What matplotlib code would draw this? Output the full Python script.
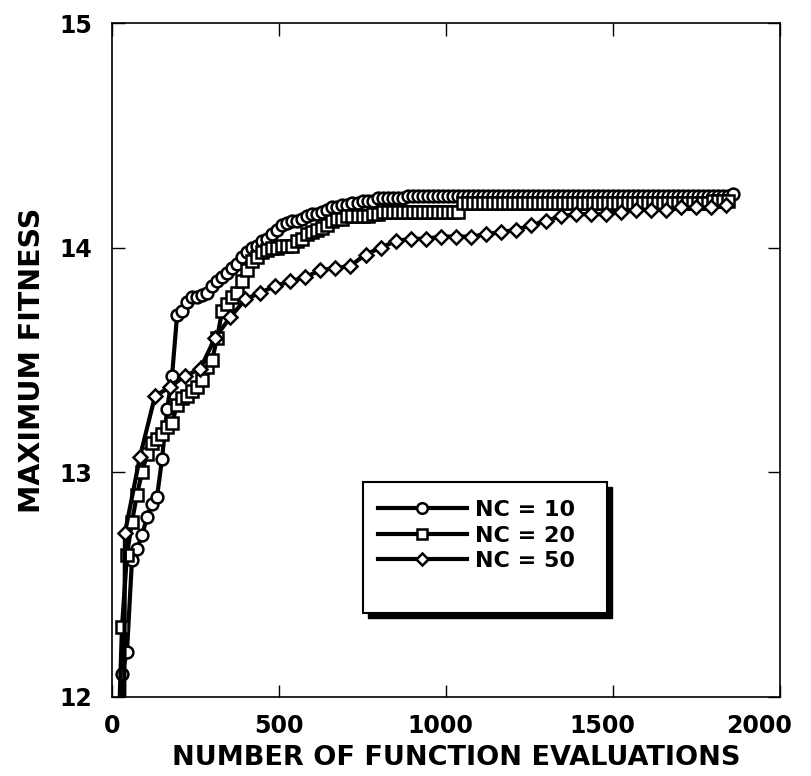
import numpy as np
import matplotlib.pyplot as plt
from matplotlib.patches import Rectangle
from matplotlib.transforms import ScaledTranslation

# Maximum fitness vs. number of function evaluations for three NC settings
evals_nc10 = np.arange(15, 1861, 15)
fit_nc10 = [
    11.60, 12.10, 12.20, 12.61, 12.66, 12.72, 12.80, 12.86, 12.89, 13.06,
    13.28, 13.43, 13.70, 13.72, 13.76, 13.78, 13.78, 13.79, 13.80, 13.83,
    13.85, 13.87, 13.89, 13.91, 13.93, 13.96, 13.98, 14.00, 14.01, 14.03,
    14.04, 14.06, 14.08, 14.10, 14.11, 14.12, 14.12, 14.13, 14.14, 14.15,
    14.15, 14.16, 14.17, 14.18, 14.18, 14.19, 14.19, 14.20, 14.20, 14.21,
    14.21, 14.21, 14.22, 14.22, 14.22, 14.22, 14.22, 14.22, 14.23, 14.23,
    14.23, 14.23, 14.23, 14.23, 14.23, 14.23, 14.23, 14.23, 14.23, 14.23,
    14.23, 14.23, 14.23, 14.23, 14.23, 14.23, 14.23, 14.23, 14.23, 14.23,
    14.23, 14.23, 14.23, 14.23, 14.23, 14.23, 14.23, 14.23, 14.23, 14.23,
    14.23, 14.23, 14.23, 14.23, 14.23, 14.23, 14.23, 14.23, 14.23, 14.23,
    14.23, 14.23, 14.23, 14.23, 14.23, 14.23, 14.23, 14.23, 14.23, 14.23,
    14.23, 14.23, 14.23, 14.23, 14.23, 14.23, 14.23, 14.23, 14.23, 14.23,
    14.23, 14.23, 14.23, 14.24,
]

evals_nc20 = np.arange(15, 1846, 15)
fit_nc20 = [
    11.60, 12.31, 12.63, 12.78, 12.90, 13.00, 13.08, 13.13, 13.15, 13.17,
    13.20, 13.22, 13.30, 13.33, 13.34, 13.36, 13.38, 13.41, 13.47, 13.50,
    13.60, 13.72, 13.75, 13.78, 13.80, 13.85, 13.90, 13.94, 13.96, 13.98,
    13.99, 14.00, 14.00, 14.01, 14.01, 14.01, 14.03, 14.04, 14.06, 14.07,
    14.08, 14.09, 14.10, 14.12, 14.13, 14.13, 14.14, 14.14, 14.14, 14.14,
    14.14, 14.15, 14.15, 14.16, 14.16, 14.16, 14.16, 14.16, 14.16, 14.16,
    14.16, 14.16, 14.16, 14.16, 14.16, 14.16, 14.16, 14.16, 14.16, 14.20,
    14.20, 14.20, 14.20, 14.20, 14.20, 14.20, 14.20, 14.20, 14.20, 14.20,
    14.20, 14.20, 14.20, 14.20, 14.20, 14.20, 14.20, 14.20, 14.20, 14.20,
    14.20, 14.20, 14.20, 14.20, 14.20, 14.20, 14.20, 14.20, 14.20, 14.20,
    14.20, 14.20, 14.20, 14.20, 14.20, 14.20, 14.20, 14.20, 14.20, 14.20,
    14.20, 14.20, 14.20, 14.20, 14.20, 14.20, 14.20, 14.20, 14.20, 14.21,
    14.21, 14.21, 14.21,
]

evals_nc50 = [36, 39, 84, 129, 174, 219, 264, 309, 354, 399, 444, 489, 534,
              579, 624, 669, 714, 759, 804, 849, 894, 939, 984, 1029, 1074,
              1119, 1164, 1209, 1254, 1299, 1344, 1389, 1434, 1479, 1524,
              1569, 1614, 1659, 1704, 1749, 1794, 1839]
fit_nc50 = [11.60, 12.73, 13.07, 13.34, 13.38, 13.43, 13.46, 13.60, 13.69,
            13.77, 13.80, 13.83, 13.85, 13.87, 13.90, 13.91, 13.92, 13.97,
            14.00, 14.03, 14.04, 14.04, 14.05, 14.05, 14.05, 14.06, 14.07,
            14.08, 14.10, 14.12, 14.14, 14.15, 14.15, 14.15, 14.16, 14.17,
            14.17, 14.17, 14.18, 14.18, 14.18, 14.19]

labels = ['NC = 10', 'NC = 20', 'NC = 50']
xticks = [0, 500, 1000, 1500, 2000]
yticks = [12, 13, 14, 15]

plt.rcParams['font.family'] = 'DejaVu Sans'
plt.rcParams['font.weight'] = 'bold'

fig = plt.figure(figsize=(8.11, 7.76), dpi=100)
ax = fig.add_axes([0.138, 0.102, 0.824, 0.868])

style = dict(color='black', lw=3, mfc='white', mec='black', mew=1.8)
h1, = ax.plot(evals_nc10, fit_nc10, marker='o', ms=8.5, label=labels[0], **style)
h2, = ax.plot(evals_nc20, fit_nc20, marker='s', ms=8.5, label=labels[1], **style)
h3, = ax.plot(evals_nc50, fit_nc50, marker='D', ms=7, label=labels[2], **style)

ax.set_xlim(0, 2000)
ax.set_ylim(12, 15)
ax.set_xticks(xticks)
ax.set_yticks(yticks)
ax.tick_params(direction='in', length=9, width=1, top=True, right=True,
               labelsize=17, pad=12)
ax.tick_params(axis='y', pad=14)
for s in ax.spines.values():
    s.set_linewidth(1.2)

# the x tick labels sit a little left of their ticks toward the right end
for lbl, dx in zip(ax.get_xticklabels(), [0, 0, -4, -8, -15]):
    lbl.set_transform(lbl.get_transform() +
                      ScaledTranslation(dx / 72, 0, fig.dpi_scale_trans))

ax.set_xlabel('NUMBER OF FUNCTION EVALUATIONS', fontsize=19.5, fontweight='bold')
ax.xaxis.set_label_coords(0.516, -0.072)
ax.set_ylabel('MAXIMUM FITNESS', fontsize=20.5, fontweight='bold', labelpad=10)

# legend box with a solid drop shadow
bx, by, bw, bh = 0.376, 0.125, 0.365, 0.194
ax.add_patch(Rectangle((bx + 0.007, by - 0.008), bw, bh, transform=ax.transAxes,
                       facecolor='black', edgecolor='black', zorder=5))
ax.add_patch(Rectangle((bx, by), bw, bh, transform=ax.transAxes,
                       facecolor='white', edgecolor='black', lw=1.5, zorder=6))
leg = ax.legend(handles=[h1, h2, h3], loc='upper left',
                bbox_to_anchor=(0.398, 0.292), frameon=False, fontsize=16,
                handlelength=4.0, handletextpad=0.35, labelspacing=0.25,
                borderpad=0, borderaxespad=0, markerscale=0.9)
leg.set_zorder(7)

fig.savefig('out.png', dpi=100)
